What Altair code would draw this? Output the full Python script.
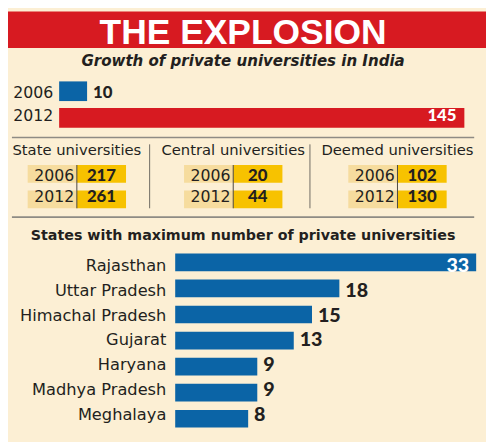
import altair as alt
import pandas as pd

# ---------------- data ----------------
years = ["2006", "2012"]
total_private = [10, 145]

categories = ["State universities", "Central universities", "Deemed universities"]
count_2006 = [217, 20, 102]
count_2012 = [261, 44, 130]

states = ["Rajasthan", "Uttar Pradesh", "Himachal Pradesh", "Gujarat",
          "Haryana", "Madhya Pradesh", "Meghalaya"]
state_counts = [33, 18, 15, 13, 9, 9, 8]

# ---------------- style ----------------
CREAM = "#FCEFD4"
RED = "#D71A21"
BLUE = "#0B64A6"
GOLD = "#F7C200"
BUFF = "#F6DC9E"
INK = "#231F20"
GREY = "#8E8B84"
W, H = 486, 434
NORMAL = "DejaVu Sans"
HEAVY = "Lato"

one = pd.DataFrame({"k": [0]})

# ---------------- header band ----------------
band = alt.Chart(one).mark_rect(color=RED).encode(
    x=alt.value(0), x2=alt.value(W), y=alt.value(0), y2=alt.value(37))
title = alt.Chart(one).mark_text(
    text="THE EXPLOSION", font="Liberation Sans", fontWeight="bold", fontSize=36,
    color="white", align="center", baseline="alphabetic").encode(
    x=alt.value(239), y=alt.value(33))
subtitle = alt.Chart(one).mark_text(
    text="Growth of private universities in India", font=NORMAL,
    fontWeight="bold", fontStyle="italic", fontSize=15.3, color=INK,
    align="center", baseline="middle").encode(
    x=alt.value(239), y=alt.value(50))

# ---------------- top bars ----------------
top_df = pd.DataFrame({"year": years, "count": total_private})
tb = alt.Chart(top_df)


def tx():
    return alt.Scale(domain=[0, 145], range=[52, 464], nice=False, zero=True)


def ty():
    return alt.Scale(domain=years, range=[71, 118], paddingInner=0.26, paddingOuter=0)


top_bars = tb.mark_bar().encode(
    x=alt.X("count:Q", scale=tx(), axis=None),
    y=alt.Y("year:N", scale=ty(), axis=None),
    color=alt.Color("year:N", scale=alt.Scale(domain=years, range=[BLUE, RED]), legend=None))
top_years = tb.mark_text(align="right", baseline="middle", dx=-6, font=NORMAL,
                         fontSize=16, color=INK).encode(
    x=alt.XDatum(0, type="quantitative", scale=tx(), axis=None),
    y=alt.Y("year:N", scale=ty(), axis=None), text="year:N")
top_out = tb.transform_filter("datum.count < 100").mark_text(
    align="left", baseline="middle", dx=6, font=HEAVY, fontWeight=900,
    fontSize=17, color=INK).encode(
    x=alt.X("count:Q", scale=tx(), axis=None), y=alt.Y("year:N", scale=ty(), axis=None),
    text="count:Q")
top_in = tb.transform_filter("datum.count >= 100").mark_text(
    align="right", baseline="middle", dx=-8, font=HEAVY, fontWeight=900,
    fontSize=17, color="white").encode(
    x=alt.X("count:Q", scale=tx(), axis=None), y=alt.Y("year:N", scale=ty(), axis=None),
    text="count:Q")


# ---------------- separators ----------------
def hline(y):
    return alt.Chart(one).mark_rule(color=GREY, strokeWidth=1.6).encode(
        x=alt.value(4), x2=alt.value(474), y=alt.value(y))


def vline(x):
    return alt.Chart(one).mark_rule(color="#6E6A62", strokeWidth=1).encode(
        x=alt.value(x), y=alt.value(135), y2=alt.value(200))


# ---------------- middle tables ----------------
table_ranges = [(20, 120), (179, 279), (346, 446)]


def row_scale():
    return alt.Scale(domain=years, range=[156, 200], paddingInner=0.31, paddingOuter=0)


table_layers = []
for i, cat in enumerate(categories):
    x0, x1 = table_ranges[i]
    cells = pd.DataFrame({
        "category": [cat] * 4,
        "year": ["2006", "2006", "2012", "2012"],
        "kind": ["year", "value", "year", "value"],
        "label": ["2006", str(count_2006[i]), "2012", str(count_2012[i])],
    })

    def cx(x0=x0, x1=x1):
        return alt.Scale(domain=["year", "value"], range=[x0, x1], paddingInner=0, paddingOuter=0)

    cb = alt.Chart(cells)
    rects = cb.mark_rect().encode(
        x=alt.X("kind:N", scale=cx(), axis=None),
        y=alt.Y("year:N", scale=row_scale(), axis=None),
        color=alt.Color("kind:N", scale=alt.Scale(domain=["year", "value"], range=[BUFF, GOLD]), legend=None))
    yr_txt = cb.transform_filter("datum.kind == 'year'").mark_text(
        font=NORMAL, fontSize=16, color=INK, baseline="middle", dx=2).encode(
        x=alt.X("kind:N", scale=cx(), axis=None),
        y=alt.Y("year:N", scale=row_scale(), axis=None), text="label:N")
    val_txt = cb.transform_filter("datum.kind == 'value'").mark_text(
        font=HEAVY, fontWeight=900, fontSize=17, color=INK, baseline="middle").encode(
        x=alt.X("kind:N", scale=cx(), axis=None),
        y=alt.Y("year:N", scale=row_scale(), axis=None), text="label:N")
    divider = alt.Chart(one).mark_rule(color="#4A4640", strokeWidth=1).encode(
        x=alt.value((x0 + x1) / 2), y=alt.value(156), y2=alt.value(200))
    header = alt.Chart(pd.DataFrame({"category": [cat]})).mark_text(
        font=NORMAL, fontSize=15, color=INK, baseline="middle").encode(
        x=alt.value((x0 + x1) / 2), y=alt.value(141), text="category:N")
    table_layers += [rects, yr_txt, val_txt, divider, header]

# ---------------- state bars ----------------
st_df = pd.DataFrame({"state": states, "count": state_counts})
sb = alt.Chart(st_df)


def sx():
    return alt.Scale(domain=[0, 33], range=[170, 476], nice=False, zero=True)


def sy():
    return alt.Scale(domain=states, range=[246, 423], paddingInner=0.32, paddingOuter=0)


st_title = alt.Chart(one).mark_text(
    text="States with maximum number of private universities", font=NORMAL,
    fontWeight="bold", fontSize=14.5, color=INK, align="center", baseline="middle").encode(
    x=alt.value(239), y=alt.value(228))
st_bars = sb.mark_bar(color=BLUE).encode(
    x=alt.X("count:Q", scale=sx(), axis=None),
    y=alt.Y("state:N", scale=sy(), axis=None, sort=states))
st_names = sb.mark_text(align="right", baseline="middle", dx=-9, font=NORMAL,
                        fontSize=16.5, color=INK).encode(
    x=alt.XDatum(0, type="quantitative", scale=sx(), axis=None),
    y=alt.Y("state:N", scale=sy(), axis=None, sort=states), text="state:N")
st_out = sb.transform_filter("datum.count < 30").mark_text(
    align="left", baseline="middle", dx=6, font=HEAVY, fontWeight=900,
    fontSize=20, color=INK).encode(
    x=alt.X("count:Q", scale=sx(), axis=None),
    y=alt.Y("state:N", scale=sy(), axis=None, sort=states), text="count:Q")
st_in = sb.transform_filter("datum.count >= 30").mark_text(
    align="right", baseline="middle", dx=-7, font=HEAVY, fontWeight=900,
    fontSize=20, color="white").encode(
    x=alt.X("count:Q", scale=sx(), axis=None),
    y=alt.Y("state:N", scale=sy(), axis=None, sort=states), text="count:Q")

chart = alt.layer(
    band, title, subtitle,
    top_bars, top_years, top_out, top_in,
    hline(128), vline(144), vline(307), *table_layers, hline(209),
    st_title, st_bars, st_names, st_out, st_in,
).resolve_scale(
    x="independent", y="independent", color="independent"
).properties(
    width=W, height=H, padding=0, autosize="none", background=CREAM
).configure_view(stroke=None)

chart.save("out.html", embed_options={"renderer": "svg", "actions": False})
